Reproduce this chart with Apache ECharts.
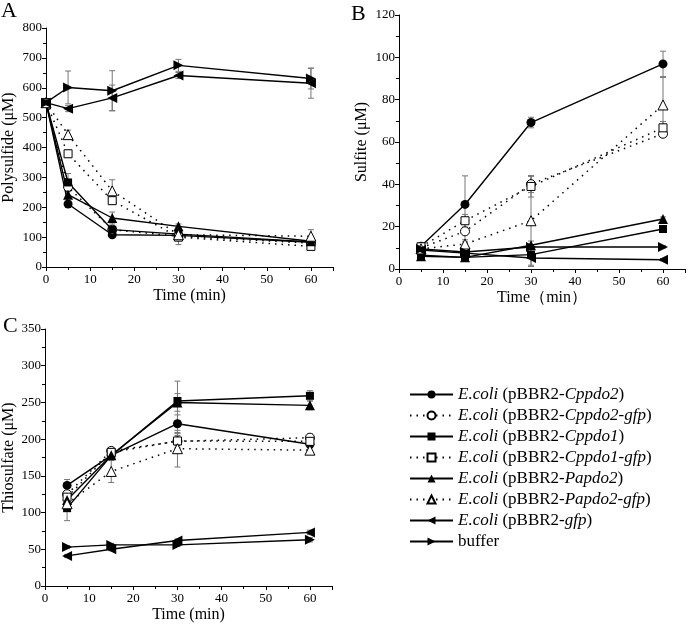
<!DOCTYPE html>
<html><head><meta charset="utf-8">
<script src="https://cdn.jsdelivr.net/npm/echarts@6/dist/echarts.min.js"></script>
<style>html,body{margin:0;padding:0;background:#fff}#c{width:700px;height:626px}</style>
</head><body><div id="c"></div><script>
const FONT = '"Liberation Serif","Times New Roman",serif';

// ---- categories / legend names ----
const seriesNames = [
  'E.coli (pBBR2-Cppdo2)',
  'E.coli (pBBR2-Cppdo2-gfp)',
  'E.coli (pBBR2-Cppdo1)',
  'E.coli (pBBR2-Cppdo1-gfp)',
  'E.coli (pBBR2-Papdo2)',
  'E.coli (pBBR2-Papdo2-gfp)',
  'E.coli (pBBR2-gfp)',
  'buffer'
];
const timesA = [0, 5, 15, 30, 60];
const timesBC = [5, 15, 30, 60];
const xTicks = [0, 10, 20, 30, 40, 50, 60];

// ---- Panel A: Polysulfide (µM) ----
const A_cppdo2      = [550, 211, 108, 106, 83];
const A_cppdo2gfp   = [550, 268, 125, 103, 80];
const A_cppdo1      = [550, 283, 125, 110, 84];
const A_cppdo1gfp   = [550, 379, 222, 100, 69];
const A_papdo2      = [550, 242, 164, 136, 86];
const A_papdo2gfp   = [550, 443, 255, 108, 103];
const A_gfp         = [550, 530, 566, 641, 615];
const A_buffer      = [550, 601, 590, 675, 631];
const A_cppdo2_err    = [0, 8, 8, 10, 5];
const A_cppdo2gfp_err = [0, 10, 10, 12, 6];
const A_cppdo1_err    = [0, 30, 10, 10, 5];
const A_cppdo1gfp_err = [0, 12, 12, 25, 6];
const A_papdo2_err    = [0, 10, 20, 8, 5];
const A_papdo2gfp_err = [0, 15, 37, 20, 22];
const A_gfp_err       = [0, 10, 43, 10, 50];
const A_buffer_err    = [0, 55, 67, 20, 35];

// ---- Panel B: Sulfite (µM) ----
const B_cppdo2      = [10.7, 30.5, 69.2, 96.9];
const B_cppdo2gfp   = [10, 17.8, 40.1, 63.9];
const B_cppdo1      = [6.5, 5.5, 6.8, 18.9];
const B_cppdo1gfp   = [10.5, 22.8, 39, 66.7];
const B_papdo2      = [6, 5.5, 11.2, 23.6];
const B_papdo2gfp   = [9.5, 11.8, 22.8, 77.5];
const B_gfp         = [9, 7.5, 5.2, 4.4];
const B_buffer      = [9.5, 8, 10.4, 10.4];
const B_cppdo2_err    = [1, 13.5, 2.5, 6];
const B_cppdo2gfp_err = [1, 4, 4, 1.5];
const B_cppdo1_err    = [0.5, 0.5, 1, 1.5];
const B_cppdo1gfp_err = [1, 3, 5, 3];
const B_papdo2_err    = [0.5, 0.5, 2, 1];
const B_papdo2gfp_err = [1, 1, 21, 13];
const B_gfp_err       = [0.5, 0.5, 4, 0.5];
const B_buffer_err    = [0.5, 0.5, 0.5, 0.5];

// ---- Panel C: Thiosulfate (µM) ----
const C_cppdo2      = [137, 178, 221, 193];
const C_cppdo2gfp   = [125, 184, 197, 202];
const C_cppdo1      = [106, 177.5, 252, 259];
const C_cppdo1gfp   = [121, 182, 197.5, 197];
const C_papdo2      = [117, 178, 250, 246];
const C_papdo2gfp   = [112, 156, 187, 185];
const C_gfp         = [41, 50, 62, 73];
const C_buffer      = [53, 56, 56, 63];
const C_cppdo2_err    = [8, 5, 12, 5];
const C_cppdo2gfp_err = [5, 4, 8, 5];
const C_cppdo1_err    = [17, 5, 27, 7];
const C_cppdo1gfp_err = [6, 4, 10, 4];
const C_papdo2_err    = [8, 4, 12, 6];
const C_papdo2gfp_err = [8, 15, 25, 5];
const C_gfp_err       = [2, 2, 2, 3];
const C_buffer_err    = [2, 2, 2, 3];

const panelA = [A_cppdo2, A_cppdo2gfp, A_cppdo1, A_cppdo1gfp, A_papdo2, A_papdo2gfp, A_gfp, A_buffer];
const panelAerr = [A_cppdo2_err, A_cppdo2gfp_err, A_cppdo1_err, A_cppdo1gfp_err, A_papdo2_err, A_papdo2gfp_err, A_gfp_err, A_buffer_err];
const panelB = [B_cppdo2, B_cppdo2gfp, B_cppdo1, B_cppdo1gfp, B_papdo2, B_papdo2gfp, B_gfp, B_buffer];
const panelBerr = [B_cppdo2_err, B_cppdo2gfp_err, B_cppdo1_err, B_cppdo1gfp_err, B_papdo2_err, B_papdo2gfp_err, B_gfp_err, B_buffer_err];
const panelC = [C_cppdo2, C_cppdo2gfp, C_cppdo1, C_cppdo1gfp, C_papdo2, C_papdo2gfp, C_gfp, C_buffer];
const panelCerr = [C_cppdo2_err, C_cppdo2gfp_err, C_cppdo1_err, C_cppdo1gfp_err, C_papdo2_err, C_papdo2gfp_err, C_gfp_err, C_buffer_err];

// ---- styles (not data) ----
const styles = [
  {symbol: 'circle', size: 9, rotate: 0, fill: true, dotted: false},
  {symbol: 'circle', size: 9, rotate: 0, fill: false, dotted: true},
  {symbol: 'rect', size: 8, rotate: 0, fill: true, dotted: false},
  {symbol: 'rect', size: 8, rotate: 0, fill: false, dotted: true},
  {symbol: 'triangle', size: 10, rotate: 0, fill: true, dotted: false},
  {symbol: 'triangle', size: 10, rotate: 0, fill: false, dotted: true},
  {symbol: 'triangle', size: 10, rotate: 90, fill: true, dotted: false},
  {symbol: 'triangle', size: 10, rotate: -90, fill: true, dotted: false}
];

function renderErr(params, api) {
  const x = api.value(0), lo = api.value(1), hi = api.value(2);
  if (hi - lo <= 0) return null;
  const p1 = api.coord([x, hi]), p2 = api.coord([x, lo]);
  const w = 3, st = {stroke: '#777', lineWidth: 1};
  return {type: 'group', children: [
    {type: 'line', shape: {x1: p1[0], y1: p1[1], x2: p2[0], y2: p2[1]}, style: st},
    {type: 'line', shape: {x1: p1[0] - w, y1: p1[1], x2: p1[0] + w, y2: p1[1]}, style: st},
    {type: 'line', shape: {x1: p2[0] - w, y1: p2[1], x2: p2[0] + w, y2: p2[1]}, style: st}
  ]};
}

const series = [];
function addPanel(idx, times, vals, errs) {
  vals.forEach((arr, i) => {
    const e = errs[i];
    series.push({
      type: 'custom', name: 'err', xAxisIndex: idx, yAxisIndex: idx, z: 1,
      renderItem: renderErr, silent: true,
      data: times.map((t, k) => [t, arr[k] - e[k], arr[k] + e[k]])
    });
  });
  vals.forEach((arr, i) => {
    const s = styles[i];
    series.push({
      type: 'line', name: seriesNames[i], xAxisIndex: idx, yAxisIndex: idx, z: 3,
      data: times.map((t, k) => [t, arr[k]]),
      symbol: s.symbol, symbolSize: s.size, symbolRotate: s.rotate, showAllSymbol: true,
      animation: false,
      lineStyle: s.dotted ? {color: '#000', width: 1.5, type: [1.5, 5], cap: 'butt'} : {color: '#000', width: 1.4},
      itemStyle: s.fill ? {color: '#000', borderColor: '#000', borderWidth: 0} : {color: '#fff', borderColor: '#000', borderWidth: 1},
      emphasis: {disabled: true}
    });
  });
}
addPanel(0, timesA, panelA, panelAerr);
addPanel(1, timesBC, panelB, panelBerr);
addPanel(2, timesBC, panelC, panelCerr);

function xAxis(idx, name, gap) {
  return {
    gridIndex: idx, type: 'value', min: 0, max: 65, interval: 10,
    name: name, nameLocation: 'middle', nameGap: gap,
    nameTextStyle: {fontFamily: FONT, fontSize: 16, color: '#000'},
    axisLine: {show: true, onZero: false, lineStyle: {color: '#000', width: 1}},
    axisTick: {show: true, length: 4, lineStyle: {color: '#000'}},
    minorTick: {show: true, splitNumber: 2, length: 3, lineStyle: {color: '#000'}},
    splitLine: {show: false},
    axisLabel: {fontFamily: FONT, fontSize: 13, color: '#000', margin: 6, showMaxLabel: false,
      formatter: v => xTicks.indexOf(v) >= 0 ? String(v) : ''}
  };
}
function yAxis(idx, max, interval, name, gap) {
  return {
    gridIndex: idx, type: 'value', min: 0, max: max, interval: interval,
    name: name, nameLocation: 'middle', nameGap: gap,
    nameTextStyle: {fontFamily: FONT, fontSize: 16, color: '#000'},
    axisLine: {show: true, onZero: false, lineStyle: {color: '#000', width: 1}},
    axisTick: {show: true, length: 4, lineStyle: {color: '#000'}},
    minorTick: {show: true, splitNumber: 2, length: 3, lineStyle: {color: '#000'}},
    splitLine: {show: false},
    axisLabel: {fontFamily: FONT, fontSize: 13, color: '#000', margin: 4}
  };
}

const chart = echarts.init(document.getElementById('c'), null, {renderer: 'canvas'});
chart.setOption({
  backgroundColor: '#fff',
  animation: false,
  grid: [
    {left: 45, top: 28, width: 288, height: 239},
    {left: 399, top: 15, width: 286, height: 254},
    {left: 44, top: 329, width: 288, height: 257}
  ],
  xAxis: [xAxis(0, 'Time (min)', 21), xAxis(1, 'Time（min）', 21), xAxis(2, 'Time (min)', 21)],
  yAxis: [yAxis(0, 800, 100, 'Polysulfide (μM)', 29), yAxis(1, 120, 20, 'Sulfite (μM)', 29), yAxis(2, 350, 50, 'Thiosulfate (μM)', 28)],
  legend: {
    data: seriesNames, orient: 'vertical', left: 409, top: 386, padding: 0,
    itemWidth: 43, itemHeight: 10, itemGap: 4, selectedMode: false,
    textStyle: {fontFamily: FONT, fontSize: 17, color: '#000', lineHeight: 17,
      rich: {i: {fontFamily: FONT, fontSize: 17, fontStyle: 'italic', color: '#000', lineHeight: 17}}},
    formatter: function (name) {
      if (name === 'buffer') return name;
      const m = name.match(/^E\.coli \(pBBR2-(.*)\)$/);
      return '{i|E.coli} (pBBR2-{i|' + m[1] + '})';
    }
  },
  graphic: [
    {type: 'text', left: 1, top: 0, style: {text: 'A', fontFamily: FONT, fontSize: 22, fill: '#000'}},
    {type: 'text', left: 351, top: 3, style: {text: 'B', fontFamily: FONT, fontSize: 22, fill: '#000'}},
    {type: 'text', left: 3, top: 315, style: {text: 'C', fontFamily: FONT, fontSize: 22, fill: '#000'}}
  ],
  series: series
});
</script></body></html>
